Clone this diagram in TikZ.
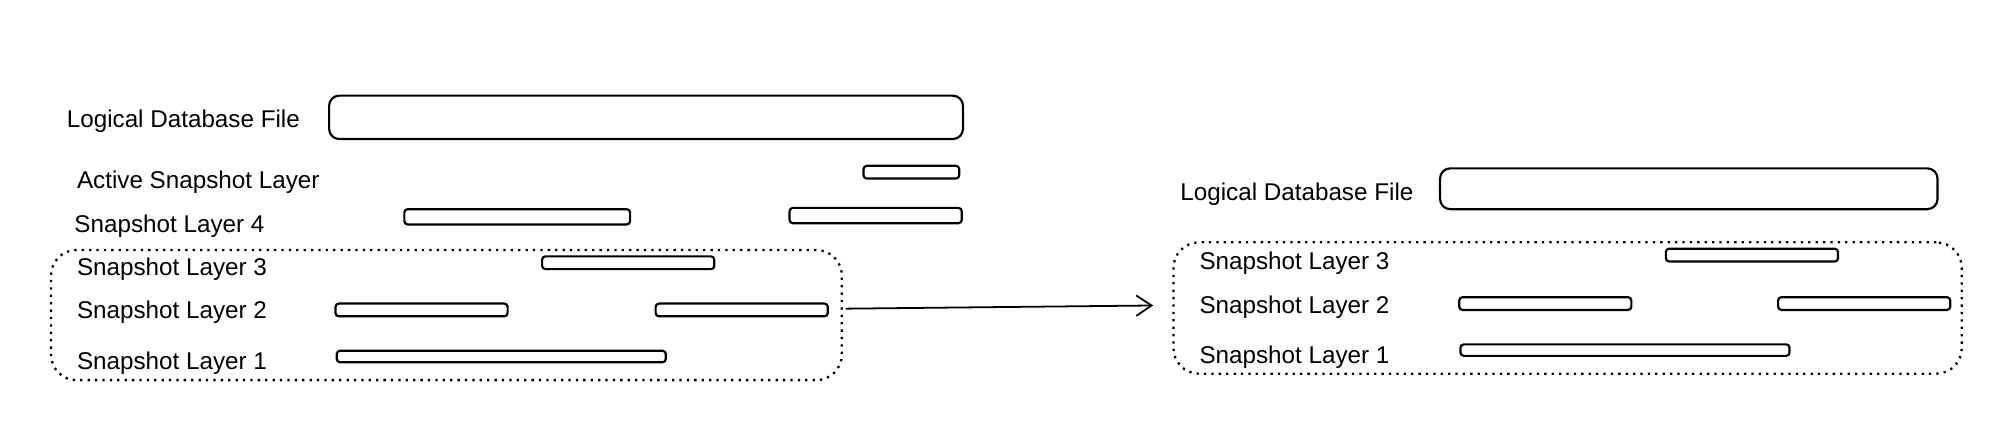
\documentclass[tikz,border=0pt]{standalone}
\usepackage{fontspec}
\setmainfont{Liberation Sans}
\usetikzlibrary{fit,arrows.meta}
\begin{document}
\begin{tikzpicture}[x=0.5pt,y=-0.5pt,
  bar/.style={draw, line width=0.85pt, rounded corners=1.3pt, inner sep=0pt},
  bigbar/.style={draw, line width=0.85pt, rounded corners=4pt, inner sep=0pt},
  group/.style={draw, dotted, line width=0.9pt, rounded corners=10pt, inner sep=0pt},
  lab/.style={anchor=west, inner sep=0pt, yshift=-1pt, font=\fontsize{9.5}{11}\selectfont},
  arr/.style={line width=0.7pt, -{Straight Barb[length=6pt,width=8pt]}}]
\useasboundingbox (0,0) rectangle (1568,336);
% left
\node[lab] (lfile) at (52,93) {Logical Database File};
\node[bigbar, fit={(258,75) (755,109)}] (lfilebox) {};
\node[lab] (lact) at (60,141) {Active Snapshot Layer};
\node[bar, fit={(677,130) (752,140)}] (lactb) {};
\node[lab] (l4) at (58,175) {Snapshot Layer 4};
\node[bar, fit={(317,164) (494,176)}] (l4a) {};
\node[bar, fit={(619,163) (754,175)}] (l4b) {};
\node[lab] (l3) at (60,209) {Snapshot Layer 3};
\node[bar, fit={(425,201) (560,211)}] (l3a) {};
\node[lab] (l2) at (60,243) {Snapshot Layer 2};
\node[bar, fit={(263,238) (398,248)}] (l2a) {};
\node[bar, fit={(514,238) (649,248)}] (l2b) {};
\node[lab] (l1) at (60,283) {Snapshot Layer 1};
\node[bar, fit={(264,275) (522,284)}] (l1a) {};
\node[group, fit={(40,196) (660,298)}] (lgroup) {};
% right
\node[lab] (rfile) at (925,150) {Logical Database File};
\node[bigbar, fit={(1129,132) (1519,164)}] (rfilebox) {};
\node[lab] (r3) at (940,204) {Snapshot Layer 3};
\node[bar, fit={(1306,195) (1441,205)}] (r3a) {};
\node[lab] (r2) at (940,239) {Snapshot Layer 2};
\node[bar, fit={(1144,233) (1279,243)}] (r2a) {};
\node[bar, fit={(1394,233) (1529,243)}] (r2b) {};
\node[lab] (r1) at (940,278) {Snapshot Layer 1};
\node[bar, fit={(1145,270) (1403,279)}] (r1a) {};
\node[group, fit={(920,190) (1538,293)}] (rgroup) {};
% arrow
\draw[arr] ([xshift=1pt,yshift=2.5pt]lgroup.east) -- ([xshift=-7.5pt,yshift=1pt]rgroup.west);
\end{tikzpicture}
\end{document}
